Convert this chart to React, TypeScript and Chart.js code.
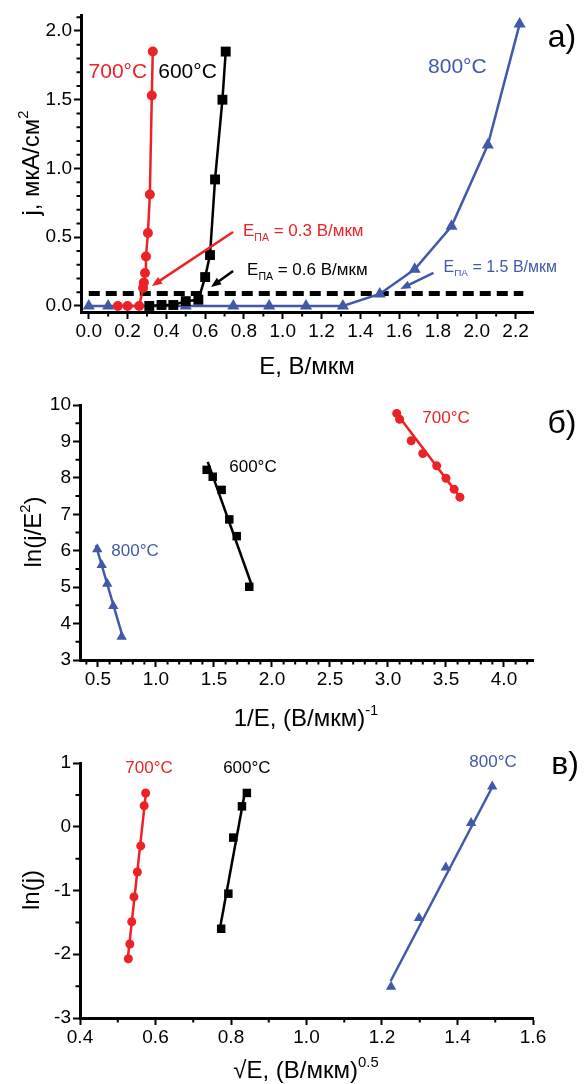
import React, { useEffect, useRef } from 'react';
import { Chart, registerables } from 'chart.js';

Chart.register(...registerables);

const RED = '#EC2227';
const BLACK = '#000000';
const BLUE = '#4259A9';
const FONT = "'Liberation Sans', Arial, Helvetica, sans-serif";

// ---------- Panel а) j(E) ----------
const E700a = [0.15, 0.2, 0.26, 0.28, 0.284, 0.29, 0.295, 0.305, 0.315, 0.325, 0.33];
const J700a = [0, 0, 0, 0.13, 0.17, 0.24, 0.36, 0.53, 0.81, 1.53, 1.85];
const E600a = [0.312, 0.375, 0.436, 0.5, 0.565, 0.6, 0.625, 0.651, 0.689, 0.706];
const J600a = [0, 0.007, 0.007, 0.035, 0.045, 0.21, 0.37, 0.92, 1.5, 1.85];
const E800a = [0, 0.1, 0.5, 0.745, 0.93, 1.12, 1.31, 1.5, 1.68, 1.87, 2.057, 2.221];
const J800a = [0, 0, 0, 0, 0, 0, 0, 0.087, 0.267, 0.58, 1.17, 2.05];
const thresholdE = [0, 2.24];
const thresholdJ = [0.09, 0.09];
const xTicksA = [0, 0.2, 0.4, 0.6, 0.8, 1.0, 1.2, 1.4, 1.6, 1.8, 2.0, 2.2];
const yTicksA = [0, 0.5, 1.0, 1.5, 2.0];

// ---------- Panel б) ln(j/E^2) vs 1/E ----------
const invE700b = [3.075, 3.1, 3.2, 3.3, 3.42, 3.5, 3.57, 3.62];
const lnJE700b = [9.77, 9.61, 9.02, 8.67, 8.33, 7.99, 7.69, 7.47];
const invE600b = [1.437, 1.489, 1.566, 1.632, 1.696, 1.804];
const lnJE600b = [8.22, 8.03, 7.67, 6.86, 6.4, 5.01];
const invE800b = [0.494, 0.532, 0.58, 0.632, 0.704];
const lnJE800b = [6.04, 5.61, 5.09, 4.48, 3.64];
const fitX700b = [3.06, 3.63];
const fitY700b = [9.83, 7.43];
const fitX600b = [1.446, 1.825];
const fitY600b = [8.44, 5.06];
const fitX800b = [0.482, 0.712];
const fitY800b = [6.15, 3.65];
const xTicksB = [0.5, 1.0, 1.5, 2.0, 2.5, 3.0, 3.5, 4.0];
const yTicksB = [3, 4, 5, 6, 7, 8, 9, 10];

// ---------- Panel в) ln(j) vs sqrt(E) ----------
const sqE700c = [0.574, 0.57, 0.561, 0.552, 0.543, 0.537, 0.532, 0.528];
const lnJ700c = [0.53, 0.33, -0.3, -0.71, -1.1, -1.49, -1.84, -2.07];
const sqE600c = [0.842, 0.829, 0.806, 0.793, 0.774];
const lnJ600c = [0.53, 0.32, -0.17, -1.05, -1.6];
const sqE800c = [1.492, 1.436, 1.369, 1.298, 1.224];
const lnJ800c = [0.63, 0.06, -0.64, -1.43, -2.51];
const fitX700c = [0.575, 0.526];
const fitY700c = [0.55, -2.1];
const fitX600c = [0.837, 0.769];
const fitY600c = [0.55, -1.65];
const fitX800c = [1.49, 1.223];
const fitY800c = [0.6, -2.42];
const xTicksC = [0.4, 0.6, 0.8, 1.0, 1.2, 1.4, 1.6];
const yTicksC = [-3, -2, -1, 0, 1];

const pts = (xs: number[], ys: number[]) => xs.map((x, i) => ({ x, y: ys[i] }));

type Seg = { t: string; s?: number; dy?: number };
type TextAnn = {
  segs: Seg[];
  x: number;
  y: number;
  size: number;
  color: string;
  align?: 'left' | 'center';
  px?: boolean;
  rotate?: boolean;
};
type ArrowAnn = { x1: number; y1: number; x2: number; y2: number; color: string };

function drawRich(ctx: CanvasRenderingContext2D, a: TextAnn, x: number, y: number) {
  ctx.save();
  ctx.translate(x, y);
  if (a.rotate) ctx.rotate(-Math.PI / 2);
  let w = 0;
  for (const g of a.segs) {
    ctx.font = `${a.size * (g.s ?? 1)}px ${FONT}`;
    w += ctx.measureText(g.t).width;
  }
  let cx = a.align === 'left' ? 0 : -w / 2;
  ctx.fillStyle = a.color;
  ctx.textAlign = 'left';
  ctx.textBaseline = 'alphabetic';
  const base = a.size * 0.36;
  for (const g of a.segs) {
    ctx.font = `${a.size * (g.s ?? 1)}px ${FONT}`;
    ctx.fillText(g.t, cx, base + (g.dy ?? 0) * a.size);
    cx += ctx.measureText(g.t).width;
  }
  ctx.restore();
}

function drawArrow(ctx: CanvasRenderingContext2D, x1: number, y1: number, x2: number, y2: number, color: string) {
  const ang = Math.atan2(y2 - y1, x2 - x1);
  const head = 11;
  ctx.save();
  ctx.strokeStyle = color;
  ctx.fillStyle = color;
  ctx.lineWidth = 2.5;
  ctx.beginPath();
  ctx.moveTo(x1, y1);
  ctx.lineTo(x2 - Math.cos(ang) * head * 0.8, y2 - Math.sin(ang) * head * 0.8);
  ctx.stroke();
  ctx.beginPath();
  ctx.moveTo(x2, y2);
  ctx.lineTo(x2 - head * Math.cos(ang - 0.38), y2 - head * Math.sin(ang - 0.38));
  ctx.lineTo(x2 - head * Math.cos(ang + 0.38), y2 - head * Math.sin(ang + 0.38));
  ctx.closePath();
  ctx.fill();
  ctx.restore();
}

type AxisSpec = { min: number; max: number; ticks: number[]; dec: number; minor: number; major: number };

function decoPlugin(xa: AxisSpec, ya: AxisSpec, texts: TextAnn[], arrows: ArrowAnn[]) {
  return {
    id: 'deco',
    afterDraw(chart: any) {
      const ctx: CanvasRenderingContext2D = chart.ctx;
      const ca = chart.chartArea;
      const xs = chart.scales.x;
      const ys = chart.scales.y;
      const each = (min: number, max: number, step: number, maj: number, fn: (v: number) => void) => {
        for (let n = Math.ceil(min / step - 1e-9); n * step <= max + 1e-9; n++) {
          const v = n * step;
          const r = v / maj;
          if (Math.abs(r - Math.round(r)) < 1e-6) continue;
          fn(v);
        }
      };
      ctx.save();
      ctx.strokeStyle = '#000';
      ctx.lineWidth = 2;
      ctx.beginPath();
      each(xs.min, xs.max, xa.minor, xa.major, (v) => {
        const p = xs.getPixelForValue(v);
        ctx.moveTo(p, ca.bottom);
        ctx.lineTo(p, ca.bottom + 4.5);
      });
      each(ys.min, ys.max, ya.minor, ya.major, (v) => {
        const p = ys.getPixelForValue(v);
        ctx.moveTo(ca.left, p);
        ctx.lineTo(ca.left - 4.5, p);
      });
      ctx.stroke();
      ctx.restore();
      for (const a of arrows) {
        drawArrow(
          ctx,
          xs.getPixelForValue(a.x1),
          ys.getPixelForValue(a.y1),
          xs.getPixelForValue(a.x2),
          ys.getPixelForValue(a.y2),
          a.color
        );
      }
      for (const t of texts) {
        const x = t.px ? t.x : xs.getPixelForValue(t.x);
        const y = t.px ? t.y : ys.getPixelForValue(t.y);
        drawRich(ctx, t, x, y);
      }
    },
  };
}

function axis(spec: AxisSpec, isX: boolean, size: number) {
  return {
    type: 'linear',
    position: isX ? 'bottom' : 'left',
    min: spec.min,
    max: spec.max,
    afterBuildTicks: (s: any) => {
      s.ticks = spec.ticks.map((v) => ({ value: v }));
    },
    afterFit: (s: any) => {
      if (isX) s.height = size;
      else s.width = size;
    },
    ticks: {
      autoSkip: false,
      maxRotation: 0,
      minRotation: 0,
      padding: isX ? 1 : 2,
      color: '#000',
      font: { family: FONT, size: 19 },
      callback: (v: any) => Number(v).toFixed(spec.dec),
    },
    grid: {
      display: true,
      drawOnChartArea: false,
      drawTicks: true,
      tickLength: 7,
      tickWidth: 2,
      tickColor: '#000',
      color: '#000',
    },
    border: { display: true, color: '#000', width: 3 },
  };
}

function build(
  datasets: any[],
  xa: AxisSpec,
  ya: AxisSpec,
  area: { left: number; right: number; top: number; bottom: number },
  h: number,
  texts: TextAnn[],
  arrows: ArrowAnn[]
) {
  return {
    type: 'scatter',
    data: { datasets },
    options: {
      responsive: false,
      maintainAspectRatio: false,
      animation: false,
      events: [],
      layout: { padding: { left: 0, top: area.top, right: 584 - area.right, bottom: 0 } },
      plugins: { legend: { display: false }, tooltip: { enabled: false } },
      scales: {
        x: axis(xa, true, h - area.bottom),
        y: axis(ya, false, area.left),
      },
    },
    plugins: [decoPlugin(xa, ya, texts, arrows)],
  } as any;
}

const series = (data: any[], color: string, style: string, r: number, line: boolean) => ({
  data,
  showLine: line,
  borderColor: color,
  backgroundColor: color,
  borderWidth: 2.5,
  pointStyle: style,
  pointRadius: r,
  pointBorderWidth: 0,
  pointBackgroundColor: color,
  order: 1,
});
const fitLine = (data: any[], color: string) => ({
  data,
  showLine: true,
  borderColor: color,
  borderWidth: 2.5,
  pointRadius: 0,
  order: 2,
});

const deg = (t: string): Seg[] => [{ t: t + '°C' }];

function buildA() {
  const xa: AxisSpec = { min: -0.04, max: 2.29, ticks: xTicksA, dec: 1, minor: 0.1, major: 0.2 };
  const ya: AxisSpec = { min: -0.044, max: 2.116, ticks: yTicksA, dec: 1, minor: 0.1, major: 0.5 };
  const ds = [
    series(pts(E700a, J700a), RED, 'circle', 5, true),
    series(pts(E600a, J600a), BLACK, 'rect', 7, true),
    series(pts(E800a, J800a), BLUE, 'triangle', 7, true),
    {
      data: pts(thresholdE, thresholdJ),
      showLine: true,
      borderColor: BLACK,
      borderWidth: 5,
      borderDash: [11, 6],
      pointRadius: 0,
      order: 5,
    },
  ];
  const sub = (v: string): Seg[] => [
    { t: 'E' },
    { t: 'ПА', s: 0.62, dy: 0.28 },
    { t: ` = ${v} В/мкм` },
  ];
  const texts: TextAnn[] = [
    { segs: deg('700'), x: 0.15, y: 1.716, size: 21, color: RED },
    { segs: deg('600'), x: 0.509, y: 1.716, size: 21, color: BLACK },
    { segs: deg('800'), x: 1.9, y: 1.75, size: 21, color: BLUE },
    { segs: sub('0.3'), x: 0.795, y: 0.553, size: 17, color: RED, align: 'left' },
    { segs: sub('0.6'), x: 0.816, y: 0.269, size: 17, color: BLACK, align: 'left' },
    { segs: sub('1.5'), x: 1.829, y: 0.291, size: 16, color: BLUE, align: 'left' },
    { segs: [{ t: 'а)' }], x: 562, y: 35, size: 32, color: BLACK, px: true },
    { segs: [{ t: 'E, В/мкм' }], x: 307, y: 365, size: 24, color: BLACK, px: true },
    {
      segs: [{ t: 'j, мкА/см' }, { t: '2', s: 0.62, dy: -0.45 }],
      x: 30,
      y: 163,
      size: 24,
      color: BLACK,
      px: true,
      rotate: true,
    },
  ];
  const arrows: ArrowAnn[] = [
    { x1: 0.744, y1: 0.538, x2: 0.325, y2: 0.145, color: RED },
    { x1: 0.744, y1: 0.255, x2: 0.63, y2: 0.138, color: BLACK },
    { x1: 1.777, y1: 0.24, x2: 1.606, y2: 0.124, color: BLUE },
  ];
  return build(ds, xa, ya, { left: 81, right: 533, top: 15, bottom: 312 }, 380, texts, arrows);
}

function buildB() {
  const xa: AxisSpec = { min: 0.345, max: 4.25, ticks: xTicksB, dec: 1, minor: 0.1, major: 0.5 };
  const ya: AxisSpec = { min: 3, max: 10, ticks: yTicksB, dec: 0, minor: 0.5, major: 1 };
  const ds = [
    series(pts(invE700b, lnJE700b), RED, 'circle', 4.5, false),
    series(pts(invE600b, lnJE600b), BLACK, 'rect', 6, false),
    series(pts(invE800b, lnJE800b), BLUE, 'triangle', 6, false),
    fitLine(pts(fitX700b, fitY700b), RED),
    fitLine(pts(fitX600b, fitY600b), BLACK),
    fitLine(pts(fitX800b, fitY800b), BLUE),
  ];
  const texts: TextAnn[] = [
    { segs: deg('700'), x: 3.5, y: 9.67, size: 17, color: RED },
    { segs: deg('600'), x: 1.836, y: 8.33, size: 17, color: BLACK },
    { segs: deg('800'), x: 0.819, y: 6.02, size: 17, color: BLUE },
    { segs: [{ t: 'б)' }], x: 562, y: 41, size: 32, color: BLACK, px: true },
    {
      segs: [{ t: '1/E, (В/мкм)' }, { t: '-1', s: 0.62, dy: -0.45 }],
      x: 306,
      y: 337,
      size: 24,
      color: BLACK,
      px: true,
    },
    {
      segs: [{ t: 'ln(j/E' }, { t: '2', s: 0.62, dy: -0.45 }, { t: ')' }],
      x: 32,
      y: 152,
      size: 24,
      color: BLACK,
      px: true,
      rotate: true,
    },
  ];
  return build(ds, xa, ya, { left: 80, right: 533, top: 25, bottom: 280 }, 360, texts, []);
}

function buildC() {
  const xa: AxisSpec = { min: 0.4, max: 1.6, ticks: xTicksC, dec: 1, minor: 0.1, major: 0.2 };
  const ya: AxisSpec = { min: -3, max: 1, ticks: yTicksC, dec: 0, minor: 0.5, major: 1 };
  const ds = [
    series(pts(sqE700c, lnJ700c), RED, 'circle', 4.5, false),
    series(pts(sqE600c, lnJ600c), BLACK, 'rect', 6, false),
    series(pts(sqE800c, lnJ800c), BLUE, 'triangle', 6, false),
    fitLine(pts(fitX700c, fitY700c), RED),
    fitLine(pts(fitX600c, fitY600c), BLACK),
    fitLine(pts(fitX800c, fitY800c), BLUE),
  ];
  const texts: TextAnn[] = [
    { segs: deg('700'), x: 0.583, y: 0.94, size: 17, color: RED },
    { segs: deg('600'), x: 0.842, y: 0.94, size: 17, color: BLACK },
    { segs: deg('800'), x: 1.494, y: 1.03, size: 17, color: BLUE },
    { segs: [{ t: 'в)' }], x: 565, y: 22, size: 32, color: BLACK, px: true },
    {
      segs: [{ t: '√E, (В/мкм)' }, { t: '0.5', s: 0.62, dy: -0.45 }],
      x: 306,
      y: 329,
      size: 24,
      color: BLACK,
      px: true,
    },
    { segs: [{ t: 'ln(j)' }], x: 30, y: 150, size: 24, color: BLACK, px: true, rotate: true },
  ];
  return build(ds, xa, ya, { left: 80, right: 533, top: 23, bottom: 278 }, 344, texts, []);
}

export default function App() {
  const ra = useRef<HTMLCanvasElement>(null);
  const rb = useRef<HTMLCanvasElement>(null);
  const rc = useRef<HTMLCanvasElement>(null);
  useEffect(() => {
    const charts = [
      new Chart(ra.current as HTMLCanvasElement, buildA()),
      new Chart(rb.current as HTMLCanvasElement, buildB()),
      new Chart(rc.current as HTMLCanvasElement, buildC()),
    ];
    return () => charts.forEach((c) => c.destroy());
  }, []);
  return (
    <div style={{ position: 'absolute', left: 0, top: 0, width: 584, height: 1084, background: '#fff' }}>
      <canvas ref={ra} width={584} height={380} style={{ position: 'absolute', left: 0, top: 0 }} />
      <canvas ref={rb} width={584} height={360} style={{ position: 'absolute', left: 0, top: 380 }} />
      <canvas ref={rc} width={584} height={344} style={{ position: 'absolute', left: 0, top: 740 }} />
    </div>
  );
}
